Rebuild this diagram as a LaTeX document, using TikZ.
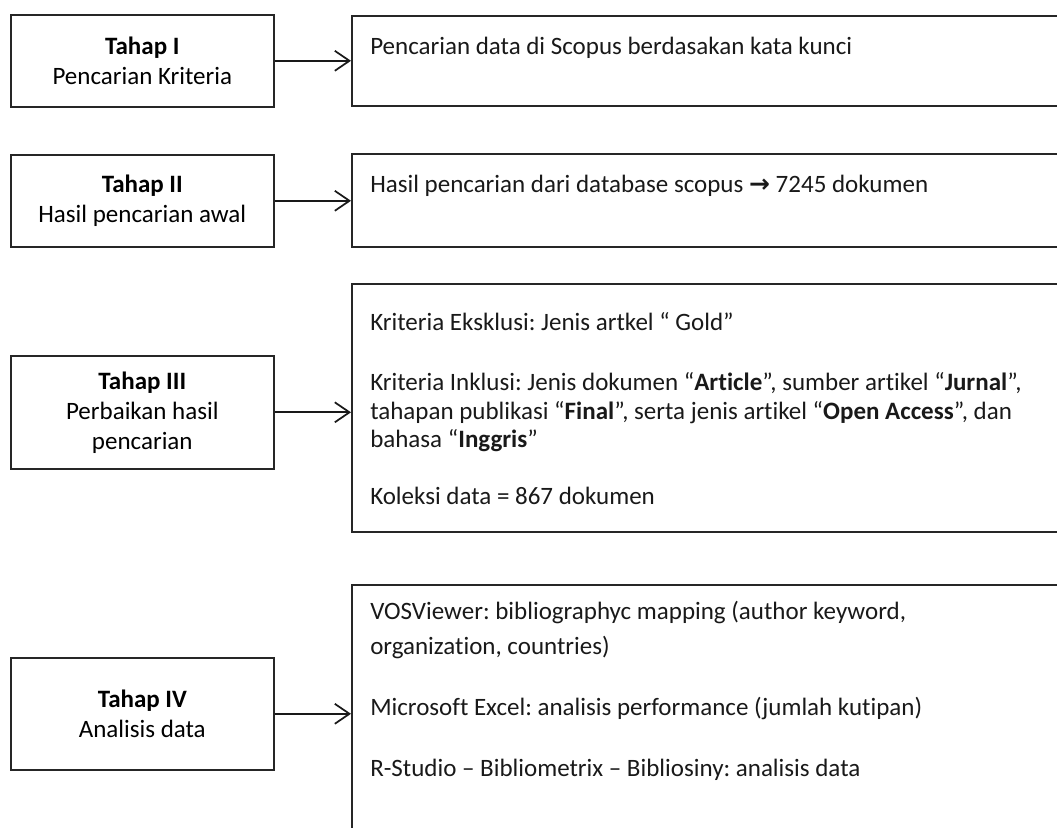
\documentclass[tikz,border=0pt]{standalone}
\usepackage{fontspec}
\setmainfont{Carlito}[Ligatures=NoCommon]
\newfontfamily\arrowfont{DejaVu Sans}
\usetikzlibrary{arrows.meta}
\frenchspacing

\tikzset{
  stagebox/.style={draw=black!85, line width=1.2pt, inner sep=0pt, anchor=north west,
    minimum width=197.25pt, align=center, font=\fontsize{18.75pt}{22.5pt}\selectfont},
  infobox/.style={draw=black!85, line width=1.2pt, inner sep=0pt, anchor=north west,
    minimum width=543pt},
  infoline/.style={anchor=base west, inner sep=0pt, text=black!90,
    font=\fontsize{18.75pt}{22.5pt}\selectfont},
  flow/.style={draw=black!90, line width=1.3pt,
    -{Straight Barb[length=11pt,width=15pt,line width=1.3pt]}}
}

\begin{document}
\begin{tikzpicture}[x=0.75pt, y=-0.75pt]
  \useasboundingbox (0,0) rectangle (1057,828);
  \clip (0,0) rectangle (1057,828);

  % stage boxes on the left
  \node[stagebox, minimum height=69pt]    (s1) at (10,14)  {\textbf{Tahap I}\\Pencarian Kriteria};
  \node[stagebox, minimum height=69pt]    (s2) at (10,154) {\textbf{Tahap II}\\Hasil pencarian awal};
  \node[stagebox, minimum height=84.75pt] (s3) at (10,355) {\textbf{Tahap III}\\Perbaikan hasil\\pencarian};
  \node[stagebox, minimum height=84pt]    (s4) at (10,657) {\textbf{Tahap IV}\\Analisis data};

  % description boxes on the right (running past the right edge)
  \node[infobox, minimum height=67.5pt]  (d1) at (351,15)  {};
  \node[infobox, minimum height=69.75pt] (d2) at (351,153) {};
  \node[infobox, minimum height=186pt]   (d3) at (351,283) {};
  \node[infobox, minimum height=207pt]   (d4) at (351,584) {};

  % description texts
  \node[infoline] (t1) at (370,54)  {Pencarian data di Scopus berdasakan kata kunci};
  \node[infoline] (t2) at (370,192) {Hasil pencarian dari database scopus {\arrowfont\bfseries →} 7245 dokumen};

  \node[infoline] (t3a) at (370,330) {Kriteria Eksklusi: Jenis artkel “ Gold”};
  \node[infoline] (t3b) at (370,390) {Kriteria Inklusi: Jenis dokumen “\textbf{Article}”, sumber artikel “\textbf{Jurnal}”,};
  \node[infoline] (t3c) at (370,419) {tahapan publikasi “\textbf{Final}”, serta jenis artikel “\textbf{Open Access}”, dan};
  \node[infoline] (t3d) at (370,447) {bahasa “\textbf{Inggris}”};
  \node[infoline] (t3e) at (370,504) {Koleksi data = 867 dokumen};

  \node[infoline] (t4a) at (370,619) {VOSViewer: bibliographyc mapping (author keyword,};
  \node[infoline] (t4b) at (370,654) {organization, countries)};
  \node[infoline] (t4c) at (370,715) {Microsoft Excel: analisis performance (jumlah kutipan)};
  \node[infoline] (t4d) at (370,776) {R-Studio – Bibliometrix – Bibliosiny: analisis data};

  % connectors
  \draw[flow] (s1.east) -- (s1.east -| d1.west);
  \draw[flow] (s2.east) -- (s2.east -| d2.west);
  \draw[flow] (s3.east) -- (s3.east -| d3.west);
  \draw[flow] (s4.east) -- (s4.east -| d4.west);
\end{tikzpicture}
\end{document}
